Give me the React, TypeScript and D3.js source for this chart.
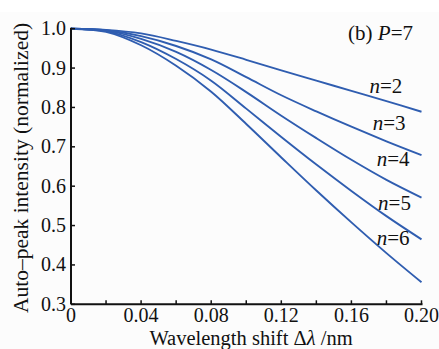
import React from "react";
import * as d3 from "d3";

const xValues = [0, 0.02, 0.04, 0.06, 0.08, 0.1, 0.12, 0.14, 0.16, 0.18, 0.2];
const n2 = [1, 0.997, 0.988, 0.969, 0.947, 0.921, 0.894, 0.868, 0.842, 0.816, 0.789];
const n3 = [1, 0.996, 0.981, 0.956, 0.922, 0.877, 0.831, 0.79, 0.751, 0.714, 0.679];
const n4 = [1, 0.995, 0.974, 0.941, 0.895, 0.839, 0.779, 0.722, 0.667, 0.616, 0.571];
const n5 = [1, 0.994, 0.966, 0.923, 0.868, 0.797, 0.725, 0.655, 0.588, 0.524, 0.465];
const n6 = [1, 0.992, 0.958, 0.906, 0.84, 0.758, 0.673, 0.589, 0.508, 0.43, 0.356];
const seriesNames = ["2", "3", "4", "5", "6"];
const seriesValues = [n2, n3, n4, n5, n6];
const xTicks = [0, 0.02, 0.04, 0.06, 0.08, 0.1, 0.12, 0.14, 0.16, 0.18, 0.2];
const xTickLabels = ["0", "", "0.04", "", "0.08", "", "0.12", "", "0.16", "", "0.20"];
const yTicks = [0.3, 0.4, 0.5, 0.6, 0.7, 0.8, 0.9, 1.0];
const yTickLabels = ["0.3", "0.4", "0.5", "0.6", "0.7", "0.8", "0.9", "1.0"];
// label anchor positions (data coords)
const labelX = [0.1797, 0.1815, 0.1838, 0.1846, 0.1838];
const labelY = [0.837, 0.743, 0.651, 0.54, 0.451];

const W = 439;
const H = 349;
const FONT = '"Liberation Serif", serif';
const BLUE = "#2f5db0";

export default function App() {
  const x = d3.scaleLinear().domain([0, 0.2]).range([71, 421.5]);
  const y = d3.scaleLinear().domain([0.3, 1.0]).range([304.3, 28.7]);
  const line = d3
    .line<number>()
    .x((_, i) => x(xValues[i]))
    .y((d) => y(d))
    .curve(d3.curveCatmullRom.alpha(0.5));

  const ts: React.CSSProperties = { fontFamily: FONT };

  return (
    <svg width={W} height={H} style={{ position: "absolute", left: 0, top: 0, display: "block" }}>
      <rect x={0} y={0} width={W} height={H} fill="#ffffff" />
      <rect x={0} y={12} width={W} height={H - 12} fill="#fcfcfc" />

      {seriesValues.map((vals, i) => (
        <path key={i} d={line(vals) || ""} fill="none" stroke={BLUE} strokeWidth={1.9} />
      ))}

      {/* axes */}
      <line x1={x(0)} x2={x(0.2) + 1} y1={y(0.3)} y2={y(0.3)} stroke="#111" strokeWidth={2} />
      <line x1={x(0)} x2={x(0)} y1={y(0.3)} y2={y(1.0) - 1} stroke="#111" strokeWidth={2} />

      {xTicks.map((t, i) => (
        <g key={i}>
          <line x1={x(t)} x2={x(t)} y1={y(0.3)} y2={y(0.3) - 4} stroke="#111" strokeWidth={1.5} />
          {xTickLabels[i] && (
            <text x={x(t)} y={322} textAnchor="middle" fontSize={20} fill="#111" style={ts}>
              {xTickLabels[i]}
            </text>
          )}
        </g>
      ))}

      {yTicks.map((t, i) => (
        <g key={i}>
          <line x1={x(0)} x2={x(0) + 4} y1={y(t)} y2={y(t)} stroke="#111" strokeWidth={1.5} />
          <text x={66} y={y(t) + 6.5} textAnchor="end" fontSize={20} fill="#111" style={ts}>
            {yTickLabels[i]}
          </text>
        </g>
      ))}

      <text x={251} y={344.5} textAnchor="middle" fontSize={20.5} fill="#111" style={ts}>
        Wavelength shift Δ<tspan fontStyle="italic">λ</tspan> /nm
      </text>
      <text
        transform={`translate(28,168) rotate(-90)`}
        textAnchor="middle"
        fontSize={21.5}
        fill="#111"
        style={ts}
      >
        Auto–peak intensity (normalized)
      </text>

      <text x={413} y={40} textAnchor="end" fontSize={21} fill="#111" style={ts}>
        (b) <tspan fontStyle="italic">P</tspan>=7
      </text>

      {seriesNames.map((nm, i) => (
        <text
          key={nm}
          x={x(labelX[i])}
          y={y(labelY[i])}
          textAnchor="middle"
          fontSize={21}
          fill="#111"
          style={ts}
        >
          <tspan fontStyle="italic">n</tspan>={nm}
        </text>
      ))}
    </svg>
  );
}
